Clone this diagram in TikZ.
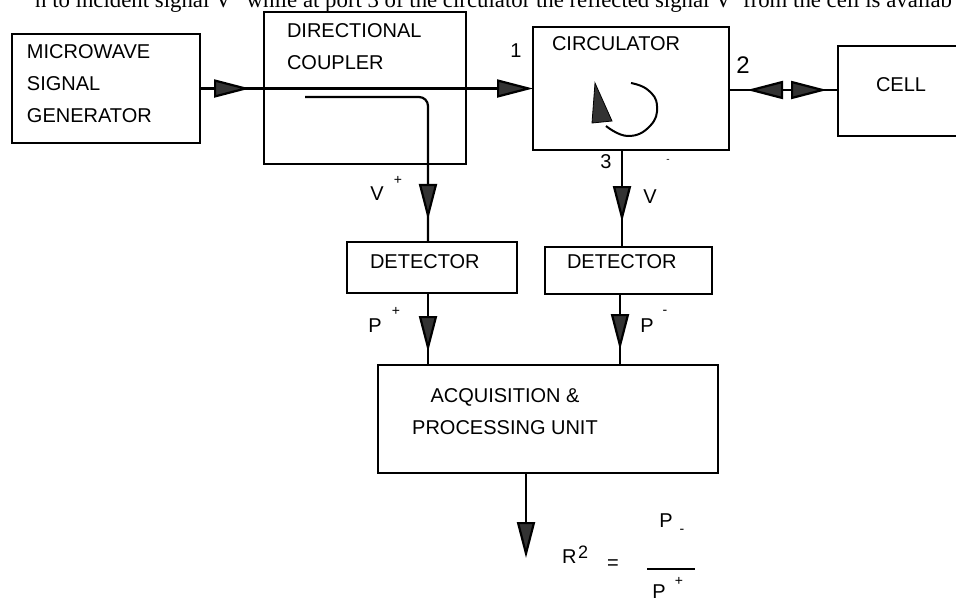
\documentclass[tikz,border=0pt]{standalone}
\usepackage{fontspec}
\setmainfont{Liberation Sans}
\newfontfamily\serifface{Liberation Serif}
\usetikzlibrary{arrows.meta,decorations.markings}
\tikzset{
  bigtri/.tip={Triangle[length=36pt,width=18pt,fill=black!80]},
  box/.style={draw, line width=2.4pt, inner sep=0pt, outer sep=0pt, anchor=north west},
  lbl/.style={font=\fontsize{20}{32}\selectfont, inner sep=0pt, outer sep=0pt},
  small/.style={font=\fontsize{14}{16}\selectfont, inner sep=0pt, outer sep=0pt},
  conn/.style={line width=2.2pt},
  midarrow/.style={postaction={decorate, decoration={markings, mark=at position #1 with {\arrow{bigtri}}}}},
  revarrow/.style={postaction={decorate, decoration={markings, mark=at position #1 with {\arrowreversed{bigtri}}}}},
}
\begin{document}
\begin{tikzpicture}[x=1pt,y=-1pt]
\clip (0,0) rectangle (956,598);
\fill[white] (0,0) rectangle (956,598);

% top cut-off text line
\node[anchor=base west, inner sep=0pt, font=\serifface\fontsize{22.8}{26}\selectfont] (toptext) at (35,7)
  {n to incident signal V\textsuperscript{+} while at port 3 of the circulator the reflected signal V\textsuperscript{-} from the cell is availab};

% boxes
\node[box, minimum width=188pt, minimum height=109pt] (gen) at (12,34) {};
\node[box, minimum width=202pt, minimum height=152pt] (coup) at (264,12) {};
\node[box, minimum width=196pt, minimum height=123pt] (circ) at (533,27) {};
\node[box, minimum width=150pt, minimum height=90pt] (cell) at (838,46) {};
\node[box, minimum width=170pt, minimum height=51pt] (det1) at (347,242) {};
\node[box, minimum width=167pt, minimum height=47pt] (det2) at (545,247) {};
\node[box, minimum width=340pt, minimum height=108pt] (acq) at (378,365) {};

% box texts
\node[lbl, anchor=base west] (gentxt) at (27,58) {\begin{tabular}[t]{@{}l@{}}MICROWAVE\\SIGNAL\\GENERATOR\end{tabular}};
\node[lbl, anchor=base west] (couptxt) at (287,37) {\begin{tabular}[t]{@{}l@{}}DIRECTIONAL\\COUPLER\end{tabular}};
\node[lbl, anchor=base west] (circtxt) at (552,50) {CIRCULATOR};
\node[lbl, anchor=base west] (celltxt) at (876,91) {CELL};
\node[lbl, anchor=base west] (det1txt) at (370,268) {DETECTOR};
\node[lbl, anchor=base west] (det2txt) at (567,268) {DETECTOR};
\node[lbl, anchor=base] (acqtxt) at (505,402) {\begin{tabular}[t]{@{}c@{}}ACQUISITION \&\\PROCESSING UNIT\end{tabular}};

% circulator symbol
\draw[line width=2pt] plot[smooth, tension=0.8] coordinates {(631,83) (648,90) (657,106) (650,126) (628,136) (606,126)};
\filldraw[fill=black!80, line width=0.8pt] (595,83) -- (592,123) -- (612,121) -- cycle;

% connectors
\draw[conn, midarrow=50pt, -{bigtri}] (gen.east) -- (circ.west);

\coordinate (cpstart) at (305,97);
\coordinate (cpturn) at (428,97);
\draw[conn, rounded corners=9pt, midarrow=242pt] (cpstart) -- (cpturn) -- (cpturn |- det1.north);

\draw[conn, revarrow=18pt, midarrow=98pt] (circ.east |- 0,90) -- (cell.west |- 0,90);

\coordinate (p3) at (622,150);
\draw[conn, midarrow=72pt] (p3) -- (p3 |- det2.north);

\draw[conn, midarrow=59pt] (det1.south -| cpturn) -- (acq.north -| cpturn);
\coordinate (p4) at (620,294);
\draw[conn, midarrow=56pt] (p4) -- (p4 |- acq.north);

\coordinate (out) at (526,558);
\draw[conn, -{bigtri}] (acq.south -| out) -- (out);

% port labels
\node[lbl, anchor=base] (l1) at (516,57) {1};
\node[lbl, anchor=base, font=\fontsize{24}{28}\selectfont] (l2) at (743,73) {2};
\node[lbl, anchor=base] (l3) at (606,168) {3};
\node[small, font=\fontsize{10}{12}\selectfont] (l3m) at (668,161) {-};

% signal labels
\node[lbl, anchor=base] (vp) at (377,200) {V};
\node[small] (vpp) at (398,180) {+};
\node[lbl, anchor=base] (vm) at (650,203) {V};
\node[lbl, anchor=base] (pp) at (375,332) {P};
\node[small] (ppp) at (396,311) {+};
\node[lbl, anchor=base] (pm) at (647,332) {P};
\node[small] (pmm) at (665,312) {-};

% result formula
\node[lbl, anchor=base west] (rr) at (562,563) {R};
\node[lbl, anchor=base west, font=\fontsize{18}{20}\selectfont] (r2) at (578,558) {2};
\node[lbl] (eq) at (613,565) {=};
\node[lbl, anchor=base] (fp) at (666,527) {P};
\node[small] (fpm) at (682,531) {-};
\draw[line width=1.4pt] (647,569) -- (695,569);
\node[lbl, anchor=base] (fq) at (659,598) {P};
\node[small] (fqp) at (679,581) {+};
\end{tikzpicture}
\end{document}
